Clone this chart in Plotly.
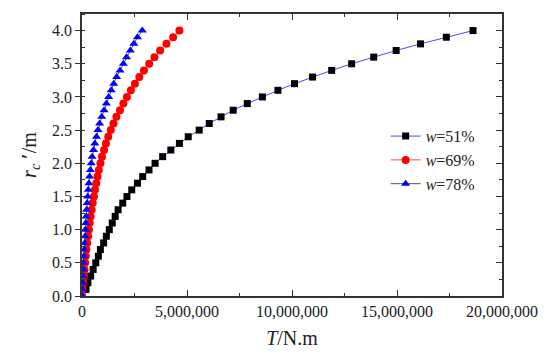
import plotly.graph_objects as go

r_vals = [round(i * 0.1, 1) for i in range(41)]

T_w51 = [0, 0.19e6, 0.28e6, 0.41e6, 0.53e6, 0.656e6, 0.78e6, 0.876e6, 1.03e6, 1.16e6,
         1.30e6, 1.44e6, 1.58e6, 1.72e6, 1.94e6, 2.14e6, 2.37e6, 2.64e6, 2.89e6, 3.19e6,
         3.48e6, 3.84e6, 4.23e6, 4.64e6, 5.06e6, 5.58e6, 6.06e6, 6.62e6, 7.20e6, 7.87e6,
         8.59e6, 9.33e6, 10.12e6, 10.98e6, 11.89e6, 12.84e6, 13.89e6, 14.96e6, 16.12e6, 17.35e6,
         18.62e6]

T_w69 = [0, 0.03e6, 0.06e6, 0.09e6, 0.12e6, 0.15e6, 0.18e6, 0.21e6, 0.25e6, 0.29e6,
         0.33e6, 0.37e6, 0.41e6, 0.46e6, 0.51e6, 0.57e6, 0.62e6, 0.68e6, 0.74e6, 0.80e6,
         0.88e6, 0.95e6, 1.05e6, 1.14e6, 1.25e6, 1.37e6, 1.50e6, 1.64e6, 1.81e6, 1.97e6,
         2.14e6, 2.33e6, 2.52e6, 2.73e6, 2.95e6, 3.20e6, 3.45e6, 3.72e6, 4.02e6, 4.34e6,
         4.64e6]

T_w78 = [0, 0.02e6, 0.035e6, 0.05e6, 0.065e6, 0.08e6, 0.095e6, 0.11e6, 0.13e6, 0.145e6,
         0.16e6, 0.18e6, 0.20e6, 0.22e6, 0.245e6, 0.27e6, 0.30e6, 0.33e6, 0.36e6, 0.40e6,
         0.44e6, 0.48e6, 0.55e6, 0.61e6, 0.69e6, 0.76e6, 0.84e6, 0.94e6, 1.05e6, 1.16e6,
         1.27e6, 1.39e6, 1.51e6, 1.65e6, 1.81e6, 1.97e6, 2.12e6, 2.30e6, 2.47e6, 2.64e6,
         2.87e6]

series_names = ["<i>w</i>=51%", "<i>w</i>=69%", "<i>w</i>=78%"]

FONT = "Liberation Serif, Times New Roman, Times, serif"

fig = go.Figure()
fig.add_trace(go.Scatter(x=T_w51, y=r_vals, mode="lines+markers", name=series_names[0],
                         line=dict(color="#4a4aff", width=1),
                         marker=dict(symbol="square", size=7, color="black")))
fig.add_trace(go.Scatter(x=T_w69, y=r_vals, mode="lines+markers", name=series_names[1],
                         line=dict(color="#ff5050", width=1),
                         marker=dict(symbol="circle", size=8, color="red")))
fig.add_trace(go.Scatter(x=T_w78, y=r_vals, mode="lines+markers", name=series_names[2],
                         line=dict(color="#555555", width=1),
                         marker=dict(symbol="triangle-up", size=8, color="blue")))
fig.add_trace(go.Scatter(x=[None], y=[None], xaxis="x2", yaxis="y2", showlegend=False,
                         hoverinfo="skip"))

axis_common = dict(showgrid=False, zeroline=False, showline=True, linecolor="#333333",
                   linewidth=1.5, tickcolor="#333333", tickwidth=1.2)

fig.update_layout(
    width=550, height=361,
    margin=dict(l=82, r=42, t=14, b=65),
    plot_bgcolor="white", paper_bgcolor="white",
    font=dict(family=FONT, size=16, color="#222222"),
    xaxis=dict(range=[0, 20e6], dtick=5e6, tickformat=",d", ticks="inside", ticklen=6,
               minor=dict(ticks="inside", dtick=2.5e6, ticklen=3, tickcolor="#333333"),
               title=dict(text="<i>T</i>/N.m", font=dict(size=20), standoff=12),
               **axis_common),
    yaxis=dict(range=[0, 4.25], dtick=0.5, tickformat=".1f", ticks="outside", ticklen=5,
               minor=dict(ticks="inside", dtick=0.25, ticklen=3, tickcolor="#333333"),
               title=dict(text="<i>r</i><sub><i>c</i></sub> <b>′</b>/m", font=dict(size=20),
                          standoff=10),
               **axis_common),
    xaxis2=dict(overlaying="x", side="top", range=[0, 20e6], dtick=5e6, showticklabels=False,
                ticks="inside", ticklen=6,
                minor=dict(ticks="inside", dtick=2.5e6, ticklen=3, tickcolor="#333333"),
                **axis_common),
    yaxis2=dict(overlaying="y", side="right", range=[0, 4.25], dtick=0.5, showticklabels=False,
                ticks="inside", ticklen=6,
                minor=dict(ticks="inside", dtick=0.25, ticklen=3, tickcolor="#333333"),
                **axis_common),
    legend=dict(x=0.723, y=0.627, xanchor="left", yanchor="top", bgcolor="rgba(0,0,0,0)",
                font=dict(size=16), tracegroupgap=0),
    showlegend=True,
)

fig.write_html("out.html", config={"displayModeBar": False},
               post_script="document.body.style.margin='0';")
